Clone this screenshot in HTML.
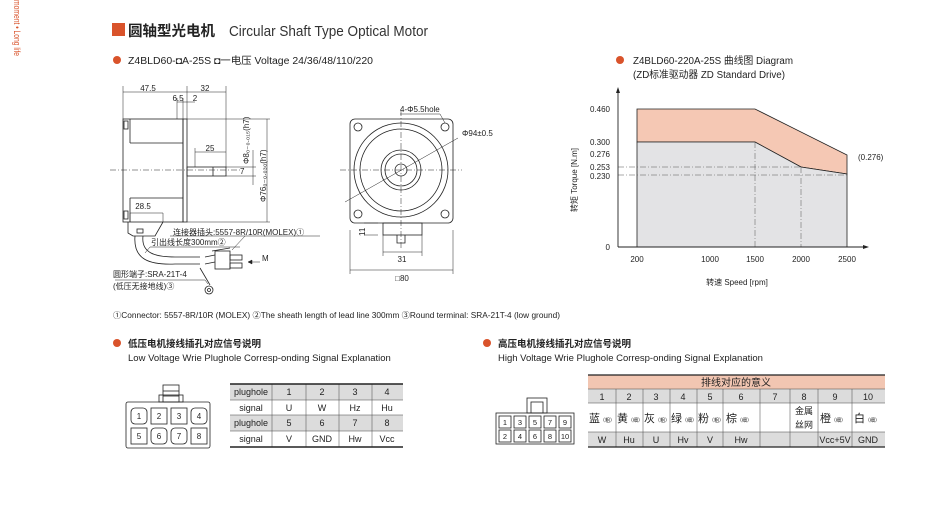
<!DOCTYPE html>
<html><head><meta charset="utf-8"><style>
body{margin:0;background:#fff;width:950px;height:516px;overflow:hidden}
svg{display:block}
text{font-family:"Liberation Sans","Noto Sans CJK SC",sans-serif;fill:#222}
.s{font-size:8px}
.m{font-size:9.5px}
</style></head><body>
<svg width="950" height="516" viewBox="0 0 950 516" xmlns="http://www.w3.org/2000/svg">
<!-- side vertical text -->
<text transform="translate(14,0) rotate(90)" font-size="9" textLength="56" lengthAdjust="spacingAndGlyphs" style="fill:#d9532b">moment • Long life</text>
<!-- title -->
<rect x="112" y="23" width="13" height="13" fill="#d9532b"/>
<text x="128" y="36" font-size="14.5" font-weight="bold" style="fill:#222">圆轴型光电机</text>
<text x="229" y="36" font-size="15" textLength="199" lengthAdjust="spacingAndGlyphs" style="fill:#333">Circular Shaft Type Optical Motor</text>
<circle cx="117" cy="60" r="4" fill="#d9532b"/>
<text x="128" y="64" font-size="10" textLength="245" lengthAdjust="spacingAndGlyphs">Z4BLD60-◘A-25S   ◘一电压 Voltage 24/36/48/110/220</text>
<circle cx="620" cy="60" r="4" fill="#d9532b"/>
<text x="633" y="64" font-size="10" textLength="160" lengthAdjust="spacingAndGlyphs">Z4BLD60-220A-25S 曲线图 Diagram</text>
<text x="633" y="78" font-size="10" textLength="152" lengthAdjust="spacingAndGlyphs">(ZD标准驱动器 ZD Standard Drive)</text>

<!-- side view motor -->
<g stroke="#222" fill="none" stroke-width="0.8">
<rect x="123" y="119" width="60" height="103"/>
<rect x="183" y="119" width="4" height="103"/>
<line x1="130" y1="119" x2="130" y2="143"/>
<line x1="130" y1="143" x2="183" y2="143"/>
<line x1="130" y1="198" x2="183" y2="198"/>
<line x1="130" y1="198" x2="130" y2="222"/>
<rect x="124" y="121" width="4" height="8"/>
<rect x="124" y="211" width="4" height="8"/>
<rect x="187" y="167" width="39" height="9"/>
<line x1="213" y1="167" x2="213" y2="176"/>
<path d="M128 222 L128 233 L133 236 L155 236 L163 222"/>
<rect x="137" y="229" width="6" height="4"/>
<path d="M135 236 C133 260,150 265,175 264 L200 264"/>
<path d="M143 236 C141 253,155 257,175 257 L200 257"/>
<path d="M205 264 L215 262 M205 257 L215 255"/>
<rect x="215" y="251" width="15" height="18"/>
<rect x="230" y="255" width="12" height="5"/>
<rect x="230" y="263" width="12" height="5"/>
<path d="M212 251 L230 248"/>
<path d="M200 268 L210 285"/>
<circle cx="209" cy="290" r="4"/>
<circle cx="209" cy="290" r="1.5"/>
</g>
<g stroke="#222" stroke-width="0.5" fill="none">
<line x1="123" y1="86" x2="123" y2="119"/><line x1="187" y1="86" x2="187" y2="119"/><line x1="226" y1="86" x2="226" y2="167"/>
<line x1="123" y1="92" x2="226" y2="92"/>
<line x1="177" y1="102" x2="195" y2="102"/><line x1="177" y1="98" x2="177" y2="119"/><line x1="183" y1="98" x2="183" y2="119"/>
<line x1="195" y1="152" x2="226" y2="152"/><line x1="195" y1="148" x2="195" y2="167"/>
<line x1="187" y1="119" x2="270" y2="119"/><line x1="187" y1="222" x2="270" y2="222"/>
<line x1="267" y1="119" x2="267" y2="222"/>
<line x1="226" y1="167" x2="256" y2="167"/><line x1="226" y1="176" x2="256" y2="176"/>
<line x1="253" y1="150" x2="253" y2="185"/>
<line x1="130" y1="213" x2="163" y2="213"/><line x1="130" y1="213" x2="130" y2="222"/><line x1="163" y1="213" x2="163" y2="222"/>
<line x1="110" y1="170" x2="240" y2="170" stroke-dasharray="6 2 1 2"/>
<line x1="170" y1="236" x2="320" y2="236"/><line x1="245" y1="236" x2="232" y2="250"/>
<line x1="150" y1="247" x2="240" y2="247"/><line x1="150" y1="247" x2="145" y2="253"/>
<line x1="115" y1="280" x2="205" y2="280"/><line x1="205" y1="280" x2="208" y2="284"/>
<line x1="260" y1="262" x2="248" y2="262"/><path d="M248 262 l4 -2 v4z" fill="#222"/>
</g>
<text x="148" y="91" class="s" text-anchor="middle">47.5</text>
<text x="205" y="91" class="s" text-anchor="middle">32</text>
<text x="178" y="101" class="s" text-anchor="middle">6.5</text>
<text x="195" y="101" class="s" text-anchor="middle">2</text>
<text x="210" y="151" class="s" text-anchor="middle">25</text>
<text x="143" y="209" class="s" text-anchor="middle">28.5</text>
<text x="240" y="174" class="s">7</text>
<text transform="translate(249,164) rotate(-90)" class="s">Φ8₀₋₀.₀₁₅(h7)</text>
<text transform="translate(266,202) rotate(-90)" class="s">Φ76₀₋₀.₀₃₀(h7)</text>
<text x="173" y="235" class="s">连接器插头:5557-8R/10R(MOLEX)①</text>
<text x="151" y="245" class="s">引出线长度300mm②</text>
<text x="262" y="261" class="s">M</text>
<text x="113" y="277" class="s">圆形端子:SRA-21T-4</text>
<text x="113" y="289" class="s">(低压无接地线)③</text>

<!-- front view -->
<g stroke="#222" fill="none" stroke-width="0.8">
<rect x="350" y="119" width="103" height="104" rx="5"/>
<circle cx="401" cy="170" r="47"/>
<circle cx="401" cy="170" r="41"/>
<circle cx="401" cy="170" r="20"/>
<circle cx="401" cy="170" r="16"/>
<circle cx="401" cy="170" r="6"/>
<circle cx="358" cy="127" r="4"/><circle cx="445" cy="127" r="4"/>
<circle cx="358" cy="214" r="4"/><circle cx="445" cy="214" r="4"/>
<rect x="383" y="223" width="39" height="12"/>
<path d="M397 235 v8 h8 v-8"/>
</g>
<g stroke="#222" stroke-width="0.5" fill="none">
<line x1="340" y1="170" x2="462" y2="170" stroke-dasharray="6 2 1 2"/>
<line x1="401" y1="110" x2="401" y2="250" stroke-dasharray="6 2 1 2"/>
<line x1="345" y1="202" x2="458" y2="138"/>
<line x1="400" y1="114" x2="440" y2="114"/><line x1="440" y1="114" x2="445" y2="123"/>
<line x1="350" y1="230" x2="350" y2="274"/><line x1="453" y1="230" x2="453" y2="274"/>
<line x1="350" y1="270" x2="453" y2="270"/>
<line x1="383" y1="235" x2="383" y2="256"/><line x1="422" y1="235" x2="422" y2="256"/>
<line x1="383" y1="252" x2="422" y2="252"/>
<line x1="364" y1="223" x2="378" y2="223"/><line x1="364" y1="235" x2="378" y2="235"/>
</g>
<text x="400" y="112" class="s">4-Φ5.5hole</text>
<text x="462" y="136" class="s">Φ94±0.5</text>
<text x="402" y="262" class="s" text-anchor="middle">31</text>
<text x="402" y="281" class="s" text-anchor="middle">□80</text>
<text transform="translate(365,236) rotate(-90)" class="s">11</text>

<text x="113" y="318" font-size="8" textLength="447" lengthAdjust="spacingAndGlyphs">①Connector: 5557-8R/10R (MOLEX)  ②The sheath length of lead line 300mm  ③Round terminal: SRA-21T-4 (low ground)</text>

<!-- chart -->
<polygon points="637,109 755,109 847,155 847,174 801,167 755,142 637,142" fill="#f5c8b4" stroke="#222" stroke-width="0.8"/>
<polygon points="637,142 755,142 801,167 847,174 847,247 637,247" fill="#e3e3e5" stroke="#222" stroke-width="0.8"/>
<g stroke="#555" stroke-width="0.5" stroke-dasharray="6 2 1 2">
<line x1="618" y1="167" x2="801" y2="167"/><line x1="618" y1="175" x2="847" y2="175"/>
<line x1="755" y1="142" x2="755" y2="247"/><line x1="801" y1="167" x2="801" y2="247"/>
</g>
<g stroke="#222" stroke-width="0.9"><line x1="618" y1="247" x2="866" y2="247"/><line x1="618" y1="247" x2="618" y2="90"/></g>
<path d="M618 87 l-2 6 h4z M869 247 l-6 -2 v4z" fill="#222"/>
<g font-size="8" text-anchor="end">
<text x="610" y="112">0.460</text><text x="610" y="145">0.300</text><text x="610" y="157">0.276</text>
<text x="610" y="170">0.253</text><text x="610" y="179">0.230</text><text x="610" y="250">0</text>
</g>
<g font-size="8" text-anchor="middle">
<text x="637" y="262">200</text><text x="710" y="262">1000</text><text x="755" y="262">1500</text>
<text x="801" y="262">2000</text><text x="847" y="262">2500</text>
<text x="737" y="285">转速 Speed [rpm]</text>
</g>
<text x="858" y="160" font-size="8">(0.276)</text>
<text transform="translate(577,212) rotate(-90)" font-size="8">转矩 Torque [N.m]</text>

<!-- sections -->
<circle cx="117" cy="343" r="4" fill="#d9532b"/>
<text x="128" y="347" font-size="9.5" font-weight="bold">低压电机接线插孔对应信号说明</text>
<text x="128" y="361" class="m">Low Voltage  Wrie Plughole Corresp-onding Signal Explanation</text>
<circle cx="487" cy="343" r="4" fill="#d9532b"/>
<text x="498" y="347" font-size="9.5" font-weight="bold">高压电机接线插孔对应信号说明</text>
<text x="498" y="361" class="m">High Voltage  Wrie Plughole Corresp-onding Signal Explanation</text>

<!-- left connector -->
<g stroke="#222" fill="none" stroke-width="0.8">
<rect x="126" y="402" width="84" height="46" rx="2"/>
<rect x="163" y="385" width="16" height="17"/>
<line x1="163" y1="391" x2="179" y2="391"/><line x1="163" y1="396" x2="179" y2="396"/>
<rect x="159" y="395" width="24" height="7"/>
<rect x="131" y="408" width="16" height="16" rx="4"/><rect x="151" y="408" width="16" height="16"/><rect x="171" y="408" width="16" height="16"/><rect x="191" y="408" width="16" height="16" rx="4"/>
<rect x="131" y="428" width="16" height="16"/><rect x="151" y="428" width="16" height="16" rx="4"/><rect x="171" y="428" width="16" height="16" rx="4"/><rect x="191" y="428" width="16" height="16"/>
</g>
<g font-size="8" text-anchor="middle">
<text x="139" y="419">1</text><text x="159" y="419">2</text><text x="179" y="419">3</text><text x="199" y="419">4</text>
<text x="139" y="439">5</text><text x="159" y="439">6</text><text x="179" y="439">7</text><text x="199" y="439">8</text>
</g>

<!-- left table -->
<rect x="230" y="384" width="173" height="16" fill="#dcdcdc"/>
<rect x="230" y="415" width="173" height="16" fill="#dcdcdc"/>
<g stroke="#444" stroke-width="0.5">
<line x1="230" y1="400" x2="403" y2="400"/><line x1="230" y1="415" x2="403" y2="415"/><line x1="230" y1="431" x2="403" y2="431"/>
<line x1="272" y1="384" x2="272" y2="447"/><line x1="306" y1="384" x2="306" y2="447"/><line x1="339" y1="384" x2="339" y2="447"/><line x1="372" y1="384" x2="372" y2="447"/>
</g>
<line x1="230" y1="384" x2="403" y2="384" stroke="#222" stroke-width="1.5"/>
<line x1="230" y1="447" x2="403" y2="447" stroke="#222" stroke-width="1.5"/>
<g font-size="9" text-anchor="middle">
<text x="251" y="395">plughole</text><text x="289" y="395">1</text><text x="322" y="395">2</text><text x="355" y="395">3</text><text x="387" y="395">4</text>
<text x="251" y="411">signal</text><text x="289" y="411">U</text><text x="322" y="411">W</text><text x="355" y="411">Hz</text><text x="387" y="411">Hu</text>
<text x="251" y="426">plughole</text><text x="289" y="426">5</text><text x="322" y="426">6</text><text x="355" y="426">7</text><text x="387" y="426">8</text>
<text x="251" y="442">signal</text><text x="289" y="442">V</text><text x="322" y="442">GND</text><text x="355" y="442">Hw</text><text x="387" y="442">Vcc</text>
</g>

<!-- right connector -->
<g stroke="#222" fill="none" stroke-width="0.8">
<rect x="496" y="413" width="78" height="31"/>
<rect x="527" y="398" width="20" height="15"/><rect x="531" y="402" width="12" height="11"/>
<rect x="499" y="416" width="12" height="12"/><rect x="514" y="416" width="12" height="12"/><rect x="529" y="416" width="12" height="12"/><rect x="544" y="416" width="12" height="12"/><rect x="559" y="416" width="12" height="12"/>
<rect x="499" y="430" width="12" height="12"/><rect x="514" y="430" width="12" height="12"/><rect x="529" y="430" width="12" height="12"/><rect x="544" y="430" width="12" height="12"/><rect x="559" y="430" width="12" height="12"/>
</g>
<g font-size="7.5" text-anchor="middle">
<text x="505" y="425">1</text><text x="520" y="425">3</text><text x="535" y="425">5</text><text x="550" y="425">7</text><text x="565" y="425">9</text>
<text x="505" y="439">2</text><text x="520" y="439">4</text><text x="535" y="439">6</text><text x="550" y="439">8</text><text x="565" y="439">10</text>
</g>

<!-- right table -->
<rect x="588" y="375" width="297" height="14" fill="#f2c6b2"/>
<rect x="588" y="389" width="297" height="14" fill="#dcdcdc"/>
<rect x="588" y="432" width="297" height="15" fill="#dcdcdc"/>
<line x1="588" y1="375" x2="885" y2="375" stroke="#222" stroke-width="1.2"/>
<g stroke="#444" stroke-width="0.5">
<line x1="588" y1="389" x2="885" y2="389"/><line x1="588" y1="403" x2="885" y2="403"/><line x1="588" y1="432" x2="885" y2="432"/>
<line x1="616" y1="389" x2="616" y2="447"/><line x1="643" y1="389" x2="643" y2="447"/><line x1="670" y1="389" x2="670" y2="447"/><line x1="697" y1="389" x2="697" y2="447"/><line x1="723" y1="389" x2="723" y2="447"/><line x1="760" y1="389" x2="760" y2="447"/><line x1="790" y1="389" x2="790" y2="447"/><line x1="818" y1="389" x2="818" y2="447"/><line x1="852" y1="389" x2="852" y2="447"/>
</g>
<line x1="588" y1="447" x2="885" y2="447" stroke="#222" stroke-width="1.2"/>
<text x="736" y="386" font-size="10" text-anchor="middle">排线对应的意义</text>
<g font-size="9" text-anchor="middle">
<text x="602" y="400">1</text><text x="629" y="400">2</text><text x="656" y="400">3</text><text x="683" y="400">4</text><text x="710" y="400">5</text><text x="741" y="400">6</text><text x="775" y="400">7</text><text x="804" y="400">8</text><text x="835" y="400">9</text><text x="868" y="400">10</text>
<text x="602" y="443">W</text><text x="629" y="443">Hu</text><text x="656" y="443">U</text><text x="683" y="443">Hv</text><text x="710" y="443">V</text><text x="741" y="443">Hw</text><text x="835" y="443">Vcc+5V</text><text x="868" y="443">GND</text>
<text x="804" y="414">金属</text><text x="804" y="428">丝网</text>
</g>
<g font-size="11">
<text x="589" y="422">蓝<tspan font-size="5">（粗）</tspan></text>
<text x="617" y="422">黄<tspan font-size="5">（细）</tspan></text>
<text x="644" y="422">灰<tspan font-size="5">（粗）</tspan></text>
<text x="671" y="422">绿<tspan font-size="5">（细）</tspan></text>
<text x="698" y="422">粉<tspan font-size="5">（粗）</tspan></text>
<text x="726" y="422">棕<tspan font-size="5">（细）</tspan></text>
<text x="820" y="422">橙<tspan font-size="5">（细）</tspan></text>
<text x="854" y="422">白<tspan font-size="5">（细）</tspan></text>
</g>
</svg>
</body></html>
